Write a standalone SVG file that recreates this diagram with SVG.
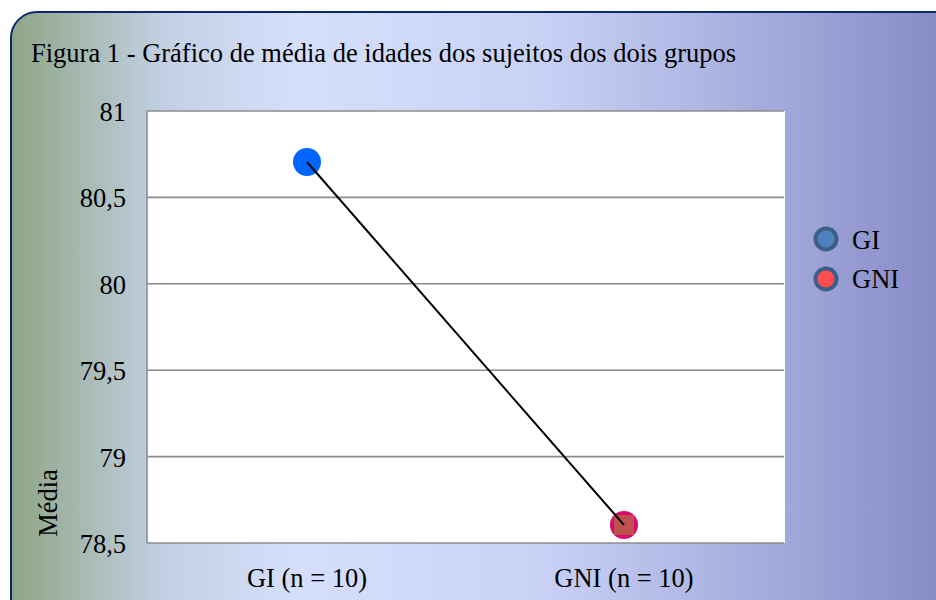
<svg xmlns="http://www.w3.org/2000/svg" width="936" height="600" viewBox="0 0 936 600">
<defs>
<linearGradient id="bg" x1="0" y1="0" x2="1" y2="0" gradientUnits="objectBoundingBox">
<stop offset="0" stop-color="#8ea587"/>
<stop offset="0.16" stop-color="#c3d0e4"/>
<stop offset="0.3" stop-color="#d5dffc"/>
<stop offset="0.55" stop-color="#c9d2f5"/>
<stop offset="0.8" stop-color="#a2a9db"/>
<stop offset="1" stop-color="#8185c2"/>
</linearGradient>
<style>
.t{font-family:"Liberation Serif","Times New Roman",serif;fill:#000}
.ax{font-size:26.5px;text-anchor:end}
.cat{font-size:26.5px;text-anchor:middle}
.grid{stroke:#8c8c8c;stroke-width:1.6}
</style>
</defs>
<rect x="11" y="12" width="960" height="620" rx="26" ry="26" fill="url(#bg)" stroke="#0b2a6e" stroke-width="2"/>
<text class="t" x="31" y="62" font-size="26.5">Figura 1 - Gráfico de média de idades dos sujeitos dos dois grupos</text>
<g id="plot">
<rect x="147" y="111" width="638" height="432" fill="#ffffff"/>
<line x1="147" y1="111" x2="147" y2="543" class="grid"/>
<line x1="147" y1="111" x2="784" y2="111" class="grid" stroke-width="2.2"/>
<line x1="147" y1="197.4" x2="784" y2="197.4" class="grid"/>
<line x1="147" y1="283.8" x2="784" y2="283.8" class="grid"/>
<line x1="147" y1="370.2" x2="784" y2="370.2" class="grid"/>
<line x1="147" y1="456.6" x2="784" y2="456.6" class="grid"/>
<line x1="147" y1="543" x2="784" y2="543" class="grid" stroke-width="2.2"/>
</g>
<g id="y-axis">
<text class="t ax" x="126" y="121">81</text>
<text class="t ax" x="126" y="207">80,5</text>
<text class="t ax" x="126" y="294">80</text>
<text class="t ax" x="126" y="380">79,5</text>
<text class="t ax" x="126" y="467">79</text>
<text class="t ax" x="126" y="553">78,5</text>
<text class="t" x="0" y="0" font-size="26.5" text-anchor="middle" transform="translate(57,503) rotate(-90)">Média</text>
</g>
<g id="x-axis">
<text class="t cat" x="307" y="587">GI (n = 10)</text>
<text class="t cat" x="624" y="587">GNI (n = 10)</text>
</g>
<g id="GI">
<circle cx="307" cy="162" r="14" fill="#0066ff"/>
</g>
<g id="GNI">
<circle cx="624" cy="525" r="14" fill="#d80a6c"/>
<rect x="614" y="515" width="20" height="20" fill="#c0504d"/>
</g>
<g id="connectors">
<line x1="307" y1="162" x2="624" y2="525" stroke="#000" stroke-width="2"/>
</g>
<g id="legend">
<circle cx="826" cy="239" r="10.5" fill="#4f81bd" stroke="#3c5f87" stroke-width="4"/>
<text class="t" x="852" y="249" font-size="26.5">GI</text>
<circle cx="826" cy="279" r="10.5" fill="#ff4c4c" stroke="#3c5f87" stroke-width="4"/>
<text class="t" x="852" y="288" font-size="26.5">GNI</text>
</g>
</svg>
